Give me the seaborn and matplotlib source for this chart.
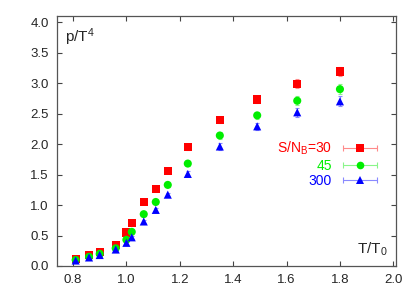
import numpy as np
import pandas as pd
import matplotlib
matplotlib.use("Agg")
import matplotlib.pyplot as plt
import seaborn as sns
from matplotlib.lines import Line2D
from matplotlib.legend_handler import HandlerLine2D, HandlerTuple

# ---- data ----
t_over_t0 = [0.81, 0.86, 0.90, 0.96, 1.00, 1.02, 1.065, 1.11, 1.155, 1.23, 1.35, 1.49, 1.64, 1.80]
p_sn30 = [0.11, 0.18, 0.23, 0.35, 0.55, 0.71, 1.05, 1.26, 1.56, 1.95, 2.40, 2.73, 2.99, 3.19]
p_sn45 = [0.10, 0.15, 0.20, 0.29, 0.43, 0.56, 0.85, 1.05, 1.33, 1.68, 2.14, 2.47, 2.71, 2.90]
p_sn300 = [0.09, 0.14, 0.18, 0.27, 0.38, 0.47, 0.73, 0.92, 1.17, 1.51, 1.96, 2.29, 2.52, 2.70]
err_sn30 = [0.01, 0.01, 0.01, 0.02, 0.02, 0.02, 0.03, 0.03, 0.03, 0.04, 0.05, 0.06, 0.07, 0.08]
err_sn45 = [0.01, 0.01, 0.01, 0.02, 0.02, 0.02, 0.03, 0.03, 0.03, 0.04, 0.05, 0.06, 0.07, 0.08]
err_sn300 = [0.01, 0.01, 0.01, 0.02, 0.02, 0.02, 0.03, 0.03, 0.03, 0.04, 0.05, 0.06, 0.07, 0.08]
series_labels = ["S/N$_\\mathrm{B}$=30", "45", "300"]
colors = ["#ff0000", "#00ee00", "#0000ff"]
light_colors = ["#ff8a8a", "#8af58a", "#8a8aff"]
markers = ["s", "o", "^"]
xticks = [0.8, 1.0, 1.2, 1.4, 1.6, 1.8, 2.0]
yticks = [0.0, 0.5, 1.0, 1.5, 2.0, 2.5, 3.0, 3.5, 4.0]

sns.set_style("ticks")
plt.rcParams["font.family"] = ["Liberation Sans", "DejaVu Sans"]
plt.rcParams["mathtext.fontset"] = "custom"
plt.rcParams["mathtext.rm"] = "Liberation Sans"
plt.rcParams["mathtext.default"] = "regular"

ys = [p_sn30, p_sn45, p_sn300]
errs = [err_sn30, err_sn45, err_sn300]
df = pd.concat([
    pd.DataFrame({"T": t_over_t0, "p": y, "err": e, "series": lab})
    for y, e, lab in zip(ys, errs, series_labels)
], ignore_index=True)

fig = plt.figure(figsize=(4.2, 2.94), dpi=100)
ax = fig.add_axes([57/420, 1-266/294, 339/420, 250/294])

for (lab, c, lc) in zip(series_labels, colors, light_colors):
    sub = df[df["series"] == lab]
    ax.errorbar(sub["T"], sub["p"], yerr=sub["err"], fmt="none", ecolor=lc,
                elinewidth=0.8, capsize=1.5, capthick=0.8, zorder=2)

sns.scatterplot(data=df, x="T", y="p", hue="series", style="series",
                palette=dict(zip(series_labels, colors)),
                markers=dict(zip(series_labels, markers)),
                s=34, linewidth=0, ax=ax, legend=False, zorder=3)

ax.set_xlim(0.74, 2.01)
ax.set_ylim(0.0, 4.1)
ax.set_xticks(xticks)
ax.set_yticks(yticks)
ax.set_xticklabels([f"{v:.1f}" for v in xticks])
ax.set_yticklabels([f"{v:.1f}" for v in yticks])
ax.tick_params(direction="in", top=True, right=True, labelsize=9.5,
               length=3.5, width=0.8, color="#444444")
ax.tick_params(axis="y", pad=6)
ax.tick_params(axis="x", pad=6)
for s in ax.spines.values():
    s.set_visible(True)
    s.set_color("#555555")
    s.set_linewidth(0.9)
ax.set_xlabel("")
ax.set_ylabel("")
ax.text(0.025, 0.96, "p/T$^4$", transform=ax.transAxes, fontsize=11,
        ha="left", va="top")
ax.text(0.975, 0.03, "T/T$_0$", transform=ax.transAxes, fontsize=11,
        ha="right", va="bottom")

handles = []
hmap = {tuple: HandlerTuple(ndivide=1, pad=0)}
for c, lc, m in zip(colors, light_colors, markers):
    cap = Line2D([], [], color=lc, lw=0.8, marker="|", markersize=5,
                 markeredgewidth=0.8)
    mk = Line2D([], [], color=c, marker=m, ls="none", markersize=5.5,
                markeredgewidth=0)
    hmap[cap] = HandlerLine2D(numpoints=2)
    hmap[mk] = HandlerLine2D(numpoints=1)
    handles.append((cap, mk))

leg = ax.legend(handles, series_labels, handler_map=hmap, markerfirst=False,
                loc="upper right", bbox_to_anchor=(0.955, 0.505), frameon=False,
                fontsize=10, handlelength=3.0, handletextpad=0.5,
                labelspacing=0.1, borderpad=0, borderaxespad=0)
for t, c in zip(leg.get_texts(), colors):
    t.set_color(c)
for col in leg._legend_handle_box.get_children():
    col.align = "right"

fig.savefig("out.png", dpi=100)
